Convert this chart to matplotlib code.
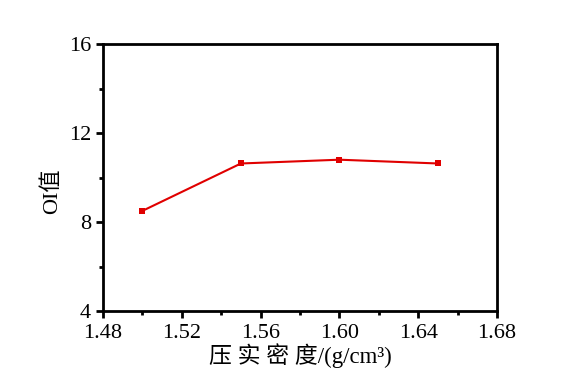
import matplotlib
matplotlib.use("Agg")
import matplotlib.pyplot as plt
from matplotlib.ticker import MultipleLocator, FormatStrFormatter

plt.rcParams['font.family'] = ['Liberation Serif', 'Noto Sans CJK SC']

density = [1.50, 1.55, 1.60, 1.65]
oi_value = [8.5, 10.63, 10.8, 10.63]

fig = plt.figure(figsize=(5.78, 3.73), dpi=100)
ax = fig.add_axes([103 / 578, 1 - 311 / 373, 394 / 578, 267 / 373])

ax.plot(density, oi_value, color='#e00000', linewidth=1.5,
        marker='s', markersize=5, markeredgewidth=0)

ax.set_xlim(1.48, 1.68)
ax.set_ylim(4, 16)
ax.xaxis.set_major_locator(MultipleLocator(0.04))
ax.xaxis.set_minor_locator(MultipleLocator(0.02))
ax.yaxis.set_major_locator(MultipleLocator(4))
ax.yaxis.set_minor_locator(MultipleLocator(2))
ax.xaxis.set_major_formatter(FormatStrFormatter('%.2f'))

for s in ax.spines.values():
    s.set_linewidth(2)
ax.tick_params(which='major', direction='out', length=5, width=2, labelsize=16)
ax.tick_params(axis='x', which='major', pad=4.5)
ax.tick_params(which='minor', direction='out', length=3, width=2)
ax.tick_params(top=False, right=False)

ax.set_xlabel('压 实 密 度/(g/cm\u00b3)', fontsize=16.5, labelpad=0)
ax.set_ylabel('OI值', fontsize=16)
ax.yaxis.set_label_coords(-0.105, 0.45)

fig.savefig('out.png', dpi=100)
